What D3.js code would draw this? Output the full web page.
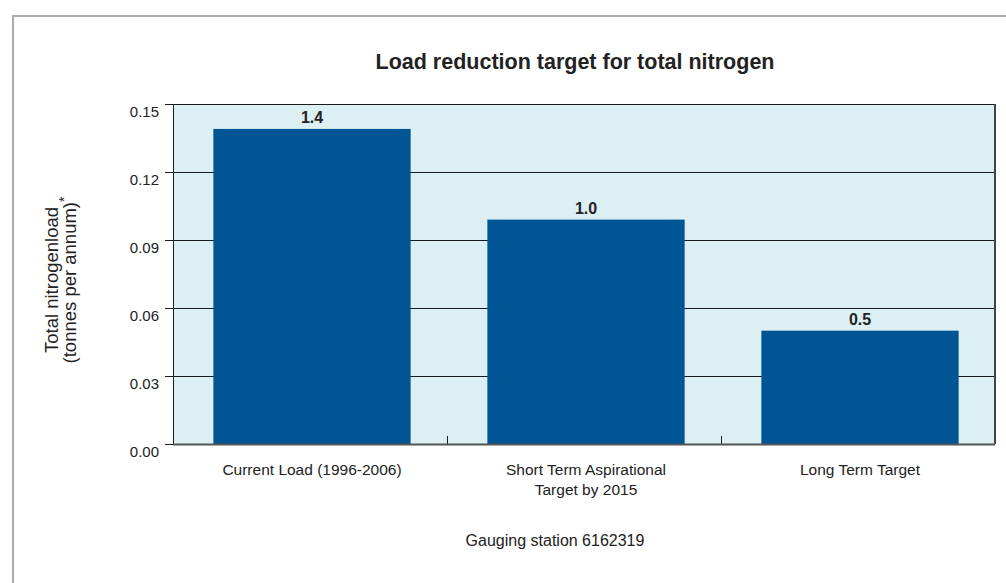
<!DOCTYPE html>
<html>
<head>
<meta charset="utf-8">
<script src="https://cdn.jsdelivr.net/npm/d3@7"></script>
<style>
  body { margin: 0; background: #fff; }
  text { font-family: "Liberation Sans", Arial, sans-serif; fill: #222; }
</style>
</head>
<body>
<svg width="1006" height="583"></svg>
<script>
// Chart data
var categories = ["Current Load (1996-2006)", "Short Term Aspirational\nTarget by 2015", "Long Term Target"];
var loads = [0.139, 0.099, 0.050];
var barLabels = ["1.4", "1.0", "0.5"];
var yTicks = [0, 0.03, 0.06, 0.09, 0.12, 0.15];

var svg = d3.select("svg"),
    margin = {top: 104, right: 11, bottom: 139, left: 173},
    width = +svg.attr("width") - margin.left - margin.right,
    height = +svg.attr("height") - margin.top - margin.bottom;

// outer frame
svg.append("rect")
  .attr("x", 13).attr("y", 16)
  .attr("width", 1010).attr("height", 600)
  .attr("fill", "none")
  .attr("stroke", "#aaa")
  .attr("stroke-width", 2);

var g = svg.append("g").attr("transform", "translate(" + margin.left + "," + margin.top + ")");

var x = d3.scaleBand().domain(d3.range(categories.length)).range([0, width])
      .paddingInner(0.28).paddingOuter(0.14),
    y = d3.scaleLinear().domain([0, 0.15]).range([height, 0]);

// plot background
g.append("rect")
  .attr("width", width).attr("height", height)
  .attr("fill", "#dcf0f4");

// gridlines
g.selectAll(".grid")
  .data(yTicks.slice(1))
  .enter().append("line")
  .attr("x1", 0).attr("x2", width)
  .attr("y1", function(d) { return Math.round(y(d)) + 0.5; })
  .attr("y2", function(d) { return Math.round(y(d)) + 0.5; })
  .attr("stroke", "#1a1a1a")
  .attr("stroke-width", 1);

// bars
g.selectAll(".bar")
  .data(loads)
  .enter().append("rect")
  .attr("class", "bar")
  .attr("x", function(d, i) { return x(i) + 2; })
  .attr("y", function(d) { return y(d); })
  .attr("width", x.bandwidth())
  .attr("height", function(d) { return height - y(d); })
  .attr("fill", "#005595");

// labels on bars
g.selectAll(".barlabel")
  .data(loads)
  .enter().append("text")
  .attr("x", function(d, i) { return x(i) + 2 + x.bandwidth() / 2; })
  .attr("y", function(d) { return y(d) - 6; })
  .attr("text-anchor", "middle")
  .style("font-size", "16px")
  .style("font-weight", "bold")
  .text(function(d, i) { return barLabels[i]; });

// right border
g.append("line")
  .attr("x1", width).attr("x2", width)
  .attr("y1", 0).attr("y2", height)
  .attr("stroke", "#444").attr("stroke-width", 2);

// y axis
var yAxis = g.append("g")
  .call(d3.axisLeft(y).tickValues(yTicks).tickFormat(d3.format(".2f")).tickSize(8).tickPadding(6));
yAxis.select(".domain").attr("stroke", "#1a1a1a");
yAxis.selectAll(".tick line").attr("stroke", "#1a1a1a");
yAxis.selectAll(".tick text")
  .attr("dy", "0.85em")
  .style("font-size", "15px")
  .style("font-family", "'Liberation Sans', Arial, sans-serif")
  .attr("fill", "#222");

// x axis with dividers pointing up between bands
g.selectAll(".divider")
  .data(d3.range(1, categories.length))
  .enter().append("line")
  .attr("x1", function(d) { return Math.round(d * width / categories.length) + 0.5; })
  .attr("x2", function(d) { return Math.round(d * width / categories.length) + 0.5; })
  .attr("y1", height - 8).attr("y2", height)
  .attr("stroke", "#1a1a1a");
g.append("line")
  .attr("x1", 0).attr("x2", width)
  .attr("y1", height + 0.5).attr("y2", height + 0.5)
  .attr("stroke", "#555").attr("stroke-width", 2);

// category labels
g.selectAll(".cat")
  .data(categories)
  .enter().append("text")
  .attr("text-anchor", "middle")
  .attr("transform", function(d, i) { return "translate(" + (x(i) + 2 + x.bandwidth() / 2) + "," + (height + 31) + ")"; })
  .style("font-size", "15.5px")
  .each(function(d) {
    var t = d3.select(this);
    d.split("\n").forEach(function(line, k) {
      t.append("tspan").attr("x", 0).attr("dy", k ? 20 : 0).text(line);
    });
  });

// title
svg.append("text")
  .attr("x", 575).attr("y", 69)
  .attr("text-anchor", "middle")
  .style("font-size", "21.5px")
  .style("font-weight", "bold")
  .text("Load reduction target for total nitrogen");

// x title
svg.append("text")
  .attr("x", 555).attr("y", 546)
  .attr("text-anchor", "middle")
  .style("font-size", "16px")
  .text("Gauging station 6162319");

// y title
var yt = svg.append("text")
  .attr("transform", "translate(58,280) rotate(-90)")
  .attr("text-anchor", "middle")
  .style("font-size", "18.5px");
yt.append("tspan").attr("x", 0).attr("y", 0).text("Total nitrogenload");
yt.append("tspan").attr("x", 0).attr("y", 18).text("(tonnes per annum)");
yt.append("tspan").attr("dy", -7).style("font-size", "14px").text("*");
</script>
</body>
</html>
